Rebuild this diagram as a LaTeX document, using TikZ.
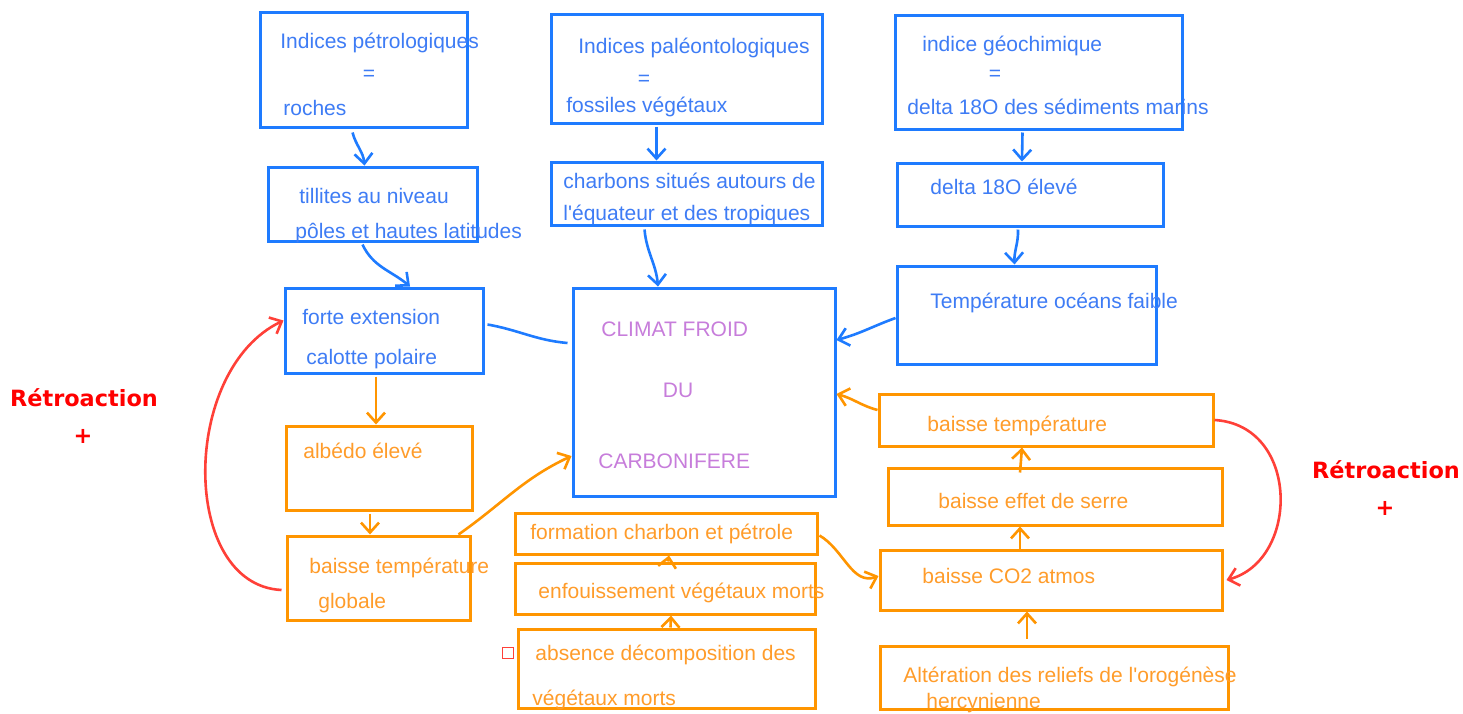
\documentclass[tikz,border=0pt]{standalone}
\usepackage{fontspec}
\setmainfont{Liberation Sans}
\newfontfamily\retrofont{DejaVu Sans}
\usetikzlibrary{arrows.meta,fit}
\definecolor{boxblue}{RGB}{30,123,255}
\definecolor{txtblue}{RGB}{62,124,245}
\definecolor{boxorange}{RGB}{255,149,0}
\definecolor{txtorange}{RGB}{255,156,42}
\definecolor{climpurple}{RGB}{199,125,219}
\definecolor{loopred}{RGB}{255,64,56}
\tikzset{
  bbox/.style={draw=boxblue, line width=1.5pt, inner sep=0pt},
  obox/.style={draw=boxorange, line width=1.5pt, inner sep=0pt},
  btxt/.style={text=txtblue, anchor=west, inner sep=0pt, text height=0.72em, text depth=0pt},
  otxt/.style={btxt, text=txtorange},
  ptxt/.style={btxt, text=climpurple},
  barrow/.style={draw=boxblue, line width=1.3pt, -{Straight Barb[length=5pt,width=9pt]}},
  oarrow/.style={barrow, draw=boxorange},
  rarrow/.style={barrow, draw=loopred},
  retro/.style={text=red, font=\retrofont\bfseries\fontsize{11.2}{13}\selectfont}
}
\begin{document}
\begin{tikzpicture}[x=0.5pt, y=-0.5pt, font=\fontsize{10.5}{12}\selectfont]
  \path[use as bounding box, fill=white] (0,0) rectangle (1463,713);
  \node[bbox, fit={(260,12) (467,127)}] (petro) {};
  \node[bbox, fit={(551,14) (822,123)}] (paleo) {};
  \node[bbox, fit={(895,15) (1182,129)}] (geo) {};
  \node[bbox, fit={(268,167) (477,241)}] (till) {};
  \node[bbox, fit={(551,162) (822,225)}] (charb) {};
  \node[bbox, fit={(897,163) (1163,226)}] (delta) {};
  \node[bbox, fit={(285,288) (483,373)}] (calotte) {};
  \node[bbox, fit={(573,288) (835,496)}] (climat) {};
  \node[bbox, fit={(897,266) (1156,364)}] (ocean) {};
  \node[obox, fit={(286,426) (472,510)}] (albedo) {};
  \node[obox, fit={(287,536) (470,620)}] (tglob) {};
  \node[obox, fit={(515,513) (817,554)}] (formation) {};
  \node[obox, fit={(515,563) (815,614)}] (enfouis) {};
  \node[obox, fit={(518,629) (815,708)}] (absence) {};
  \node[obox, fit={(879,394) (1213,446)}] (btemp) {};
  \node[obox, fit={(888,468) (1222,525)}] (serre) {};
  \node[obox, fit={(880,550) (1222,610)}] (co2) {};
  \node[obox, fit={(880,646) (1228,709)}] (alter) {};
  \node[draw=loopred, line width=0.9pt, minimum size=5.5pt, inner sep=0pt] (carre) at (508,653) {};

  \node[btxt] (petro1) at (280,41) {Indices pétrologiques};
  \node[btxt, anchor=center] (petro2) at (369,73) {=};
  \node[btxt] (petro3) at (283,108) {roches};
  \node[btxt] (paleo1) at (578,46) {Indices paléontologiques};
  \node[btxt, anchor=center] (paleo2) at (644,78) {=};
  \node[btxt] (paleo3) at (566,105) {fossiles végétaux};
  \node[btxt] (geo1) at (922,44) {indice géochimique};
  \node[btxt, anchor=center] (geo2) at (995,73) {=};
  \node[btxt] (geo3) at (907,107) {delta 18O des sédiments marins};
  \node[btxt] (till1) at (299,196) {tillites au niveau};
  \node[btxt] (till2) at (295,231) {pôles et hautes latitudes};
  \node[btxt] (charb1) at (563,181) {charbons situés autours de};
  \node[btxt] (charb2) at (563,213) {l\textquotesingle équateur et des tropiques};
  \node[btxt] (delta1) at (930,187) {delta 18O élevé};
  \node[btxt] (calotte1) at (302,317) {forte extension};
  \node[btxt] (calotte2) at (306,357) {calotte polaire};
  \node[btxt] (ocean1) at (930,301) {Température océans faible};
  \node[ptxt] (climat1) at (601,329) {CLIMAT FROID};
  \node[ptxt, anchor=center] (climat2) at (678,390) {DU};
  \node[ptxt] (climat3) at (598,461) {CARBONIFERE};
  \node[otxt] (albedo1) at (303,451) {albédo élevé};
  \node[otxt] (tglob1) at (309,566) {baisse température};
  \node[otxt] (tglob2) at (318,601) {globale};
  \node[otxt] (formation1) at (530,532) {formation charbon et pétrole};
  \node[otxt] (enfouis1) at (538,591) {enfouissement végétaux morts};
  \node[otxt] (absence1) at (535,653) {absence décomposition des};
  \node[otxt] (absence2) at (532,698) {végétaux morts};
  \node[otxt] (btemp1) at (927,424) {baisse température};
  \node[otxt] (serre1) at (938,501) {baisse effet de serre};
  \node[otxt] (co21) at (922,576) {baisse CO2 atmos};
  \node[otxt] (alter1) at (903,675) {Altération des reliefs de l\textquotesingle orogénèse};
  \node[otxt] (alter2) at (926,701) {hercynienne};
  \node[retro] (retroG) at (84,398) {Rétroaction};
  \node[retro] (plusG) at (83,436) {+};
  \node[retro] (retroD) at (1386,470) {Rétroaction};
  \node[retro] (plusD) at (1385,508) {+};

  \begin{scope}
    \draw[barrow] ([xshift=-5.5pt,yshift=-2pt]petro.south) to[out=-75,in=95] ([xshift=-4pt]till.north);
    \draw[barrow] ([xshift=-5pt,yshift=-1pt]till.south) to[out=-65,in=140] ([xshift=13pt]calotte.north);
    \draw[barrow] ([xshift=-15pt,yshift=-1pt]paleo.south) -- ([xshift=-15pt]charb.north);
    \draw[barrow] ([xshift=-21pt,yshift=-1.5pt]charb.south) to[out=-85,in=95] ([xshift=-23pt]climat.north);
    \draw[barrow] ([xshift=-8pt,yshift=-1pt]geo.south) -- ([xshift=-4pt]delta.north);
    \draw[barrow] ([xshift=-6pt,yshift=-1pt]delta.south) to[out=-88,in=92] ([xshift=-6pt]ocean.north);
    \draw[barrow] ([yshift=-1.5pt]ocean.west) to[out=200,in=15] ([yshift=26pt]climat.east);
    \draw[draw=boxblue, line width=1.3pt] ([xshift=1.5pt,yshift=3pt]calotte.east) to[out=-10,in=175] ([xshift=-2pt,yshift=24.5pt]climat.west);
    \draw[oarrow] ([xshift=-4pt,yshift=-1pt]calotte.south) -- ([xshift=-1.5pt]albedo.north);
    \draw[oarrow] ([xshift=-4.5pt,yshift=-1pt]albedo.south) -- ([xshift=-4.25pt]tglob.north);
    \draw[oarrow] ([xshift=40pt]tglob.north) to[out=35,in=205] ([yshift=-32pt]climat.west);
    \draw[rarrow] ([xshift=-2pt,yshift=-6pt]tglob.west) .. controls (180,585) and (180,370) .. ([yshift=5pt]calotte.west);
    \draw[oarrow] ([xshift=1.5pt]enfouis.north) -- ([xshift=1.5pt]formation.south);
    \draw[oarrow] ([xshift=2pt]absence.north) -- ([xshift=3pt]enfouis.south);
    \draw[oarrow] ([xshift=0.5pt,yshift=-1pt]formation.east) to[out=-30,in=200] ([yshift=2pt]co2.west);
    \draw[oarrow] ([xshift=-13.5pt,yshift=3pt]alter.north) -- ([xshift=-12pt]co2.south);
    \draw[oarrow] ([xshift=-15.5pt]co2.north) -- ([xshift=-17.5pt]serre.south);
    \draw[oarrow] ([xshift=-17.5pt,yshift=-3pt]serre.north) -- ([xshift=-12pt]btemp.south);
    \draw[oarrow] ([yshift=5pt]btemp.west) to[out=165,in=-15] ([yshift=-1pt]climat.east);
    \draw[rarrow] (btemp.east) .. controls (1300,425) and (1300,560) .. ([xshift=1.5pt]co2.east);
  \end{scope}
\end{tikzpicture}
\end{document}
